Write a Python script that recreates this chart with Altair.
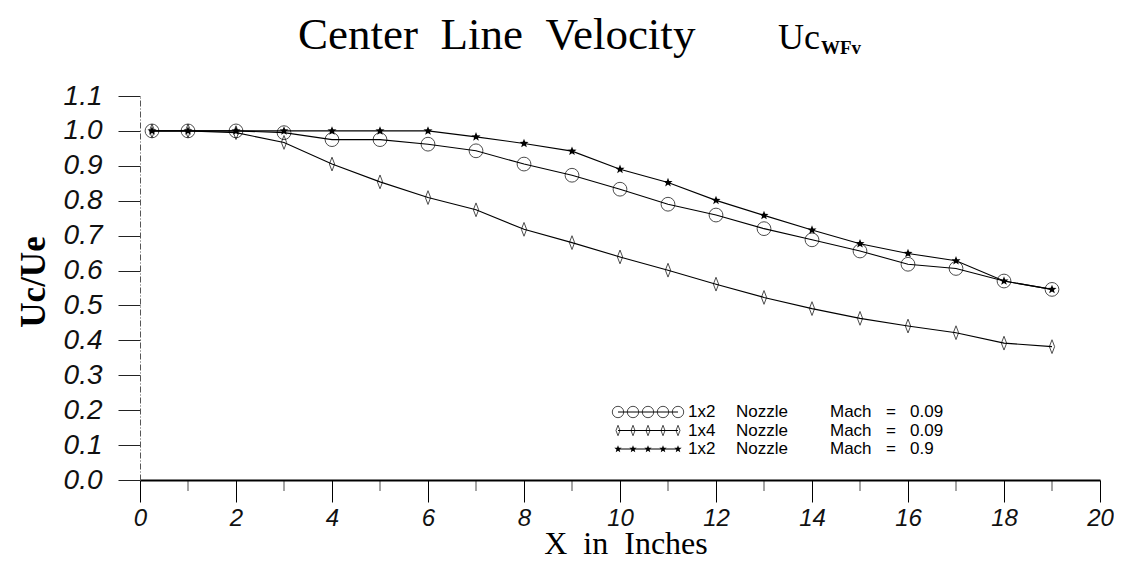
import math
import altair as alt
import pandas as pd

# ---- data ----
x_in = [0.25, 1, 2, 3, 4, 5, 6, 7, 8, 9, 10, 11, 12, 13, 14, 15, 16, 17, 18, 19]
uc_1x2_m009 = [1.00, 1.00, 1.00, 0.995, 0.975, 0.975, 0.962, 0.943, 0.905, 0.873,
               0.833, 0.790, 0.759, 0.720, 0.688, 0.656, 0.618, 0.606, 0.570, 0.546]
uc_1x4_m009 = [1.00, 1.00, 0.995, 0.967, 0.905, 0.854, 0.809, 0.774, 0.718, 0.680,
               0.639, 0.601, 0.561, 0.523, 0.491, 0.463, 0.441, 0.422, 0.392, 0.382]
uc_1x2_m09 = [1.00, 1.00, 1.00, 1.00, 1.00, 1.00, 1.00, 0.983, 0.964, 0.942,
              0.890, 0.852, 0.801, 0.758, 0.716, 0.677, 0.649, 0.628, 0.570, 0.546]

series_names = ["1x2 Nozzle Mach = 0.09", "1x4 Nozzle Mach = 0.09", "1x2 Nozzle Mach = 0.9"]
legend_nozzle = ["1x2", "1x4", "1x2"]
legend_mach = ["0.09", "0.09", "0.9"]
x_major = [0, 2, 4, 6, 8, 10, 12, 14, 16, 18, 20]
x_minor = [1, 3, 5, 7, 9, 11, 13, 15, 17, 19]
y_ticks = [0.0, 0.1, 0.2, 0.3, 0.4, 0.5, 0.6, 0.7, 0.8, 0.9, 1.0, 1.1]

title_main = "Center\u00a0\u00a0Line\u00a0\u00a0Velocity"
title_uc = "Uc"
title_sub = "WFv"
x_title = "X\u00a0\u00a0in\u00a0\u00a0Inches"
y_title = "Uc/Ue"

W, H = 960, 384
PAD_L, PAD_T, PAD_R, PAD_B = 132, 88, 14, 80
DIAMOND = "M0,-1L0.38,0L0,1L-0.38,0Z"
_pts = []
for k in range(10):
    r = 1.0 if k % 2 == 0 else 0.42
    a = math.radians(-90 + 36 * k)
    _pts.append(f"{r * math.cos(a):.3f},{r * math.sin(a):.3f}")
STAR = "M" + "L".join(_pts) + "Z"

rows = []
for name, vals in zip(series_names, [uc_1x2_m009, uc_1x4_m009, uc_1x2_m09]):
    for xv, yv in zip(x_in, vals):
        rows.append({"series": name, "x": xv, "y": yv})
df = pd.DataFrame(rows)

xscale = alt.Scale(domain=[0, 20], nice=False, zero=False)
yscale = alt.Scale(domain=[0, 1.1], nice=False, zero=False)

x_axis = alt.Axis(values=x_major, format="d", title=None, grid=False,
                  tickSize=22, tickColor="black", tickWidth=1,
                  domainColor="black", domainWidth=2,
                  labelFont="Liberation Sans", labelFontStyle="italic",
                  labelFontSize=24, labelColor="#111", labelPadding=4,
                  labelFlush=False, labelOverlap=False, orient="bottom")
y_axis = alt.Axis(values=y_ticks, format=".1f", title=None, grid=False,
                  tickSize=22, tickColor="#222", tickWidth=1,
                  domainColor="#555", domainWidth=1, domainDash=[6, 2, 1, 2],
                  labelFont="Liberation Sans", labelFontStyle="italic",
                  labelFontSize=28, labelColor="#111", labelPadding=16,
                  labelFlush=False, labelOverlap=False, orient="left")

base = alt.Chart(df).encode(
    x=alt.X("x:Q", scale=xscale, axis=x_axis),
    y=alt.Y("y:Q", scale=yscale, axis=y_axis),
)

lines = base.mark_line(color="black", strokeWidth=1.1).encode(detail="series:N")

circles = base.transform_filter(alt.datum.series == series_names[0]).mark_point(
    shape="circle", size=190, filled=False, color="black", strokeWidth=1)
diamonds = base.transform_filter(alt.datum.series == series_names[1]).mark_point(
    shape=DIAMOND, size=190, filled=False, color="black", strokeWidth=1)
stars = base.transform_filter(alt.datum.series == series_names[2]).mark_point(
    shape=STAR, size=90, filled=True, color="black", opacity=1)

minor = alt.Chart(pd.DataFrame({"x": x_minor})).mark_tick(
    orient="vertical", size=11, thickness=1, color="black").encode(
    x=alt.X("x:Q", scale=xscale, axis=x_axis),
    y=alt.value(H + 5.5),
)

one = pd.DataFrame({"a": [0]})

def text_layer(txt, x, y, size, font="Liberation Serif", align="left",
               baseline="alphabetic", weight="normal", angle=0):
    return alt.Chart(one).mark_text(
        text=txt, font=font, fontSize=size, align=align, baseline=baseline,
        fontWeight=weight, angle=angle, color="black"
    ).encode(x=alt.value(x), y=alt.value(y))

texts = [
    text_layer(title_main, 158, -47, 45),
    text_layer(title_uc, 638, -47, 36),
    text_layer(title_sub, 681, -42, 19, weight="bold"),
    text_layer(x_title, 486, 458, 32, align="center"),
    text_layer(y_title, -106, 186, 35, align="center", baseline="middle",
               angle=270, weight="bold"),
]

# ---- custom legend (row of five symbols, as in the reference) ----
legend_layers = []
sym_x = [478, 493, 508, 523, 538]
shape_specs = [
    dict(shape="circle", size=130, filled=False, color="black", strokeWidth=1),
    dict(shape=DIAMOND, size=110, filled=False, color="black", strokeWidth=1),
    dict(shape=STAR, size=60, filled=True, color="black", opacity=1),
]
for i in range(3):
    ry = 316 + i * 18.5
    legend_layers.append(
        alt.Chart(one).mark_rule(color="black", strokeWidth=1).encode(
            x=alt.value(sym_x[0]), x2=alt.value(sym_x[-1]), y=alt.value(ry)))
    for sx in sym_x:
        legend_layers.append(
            alt.Chart(one).mark_point(**shape_specs[i]).encode(
                x=alt.value(sx), y=alt.value(ry)))
    for txt, tx in [(legend_nozzle[i], 548), ("Nozzle", 596), ("Mach", 690),
                    ("=", 746), (legend_mach[i], 770)]:
        legend_layers.append(text_layer(txt, tx, ry, 17,
                                        font="Liberation Sans", baseline="middle"))

chart = alt.layer(
    lines, circles, diamonds, stars, minor, *texts, *legend_layers
).properties(
    width=W, height=H,
    autosize=alt.AutoSizeParams(type="none"),
    padding={"left": PAD_L, "top": PAD_T, "right": PAD_R, "bottom": PAD_B},
    background="white",
).configure_view(stroke=None)

chart.save("out.html", embed_options={"renderer": "svg", "actions": False})
